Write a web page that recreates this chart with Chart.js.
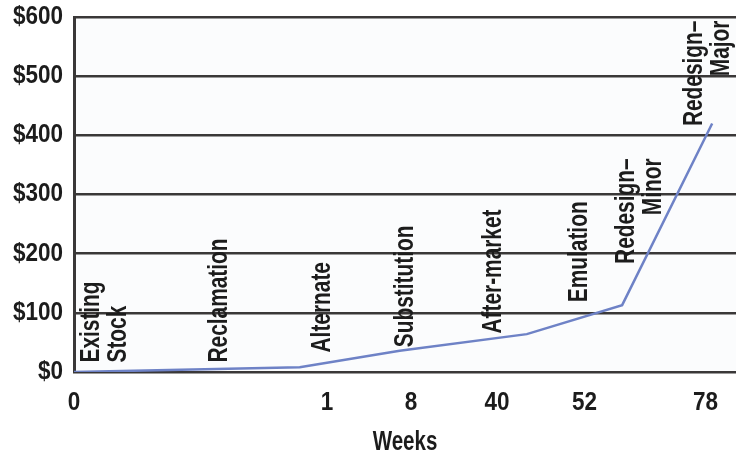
<!DOCTYPE html>
<html>
<head>
<meta charset="utf-8">
<script src="https://cdn.jsdelivr.net/npm/chart.js@4/dist/chart.umd.min.js"></script>
<style>
  body { margin: 0; background: #fff; }
  canvas { display: block; }
</style>
</head>
<body>
<canvas id="chart" width="736" height="455"></canvas>
<script>
// timeline runs 0..100 across the plot; week labels sit at uneven spots on it
const weekLabels = ['0', '1', '8', '40', '52', '78'];
const weekTickAt = [0, 38.2, 50.9, 63.9, 77.1, 95.4];

// cost curve
const timeline = [0, 34.1, 49.2, 68.4, 82.8, 96.4];
const cost = [0, 8, 36, 64, 113, 420];

// stage names written along the curve
const stageNames = [
    ['Existing', 'Stock'],
    ['Reclamation'],
    ['Alternate'],
    ['Substitution'],
    ['After-market'],
    ['Emulation'],
    ['Redesign\u2013', 'Minor'],
    ['Redesign\u2013', 'Major']
];

// where each stage name is pinned (timeline, $) and which end is pinned
const labelAnchors = [
    { x: 4.6, y: 16, align: 'left' },
    { x: 21.9, y: 16, align: 'left' },
    { x: 37.5, y: 33, align: 'left' },
    { x: 50.0, y: 42, align: 'left' },
    { x: 63.3, y: 65, align: 'left' },
    { x: 76.4, y: 118, align: 'left' },
    { x: 85.5, y: 361, align: 'right' },
    { x: 95.8, y: 594, align: 'right' }
];

const FONT = '"Liberation Sans", Arial, sans-serif';
const INK = '#1c1c1c';
const GRID = '#3a3838';
const TICK_SIZE = 25;
const TITLE_SIZE = 27;
const STAGE_SIZE = 28;

// no condensed face is installed, so squeeze each text run around its anchor;
// how much depends on which text it is (picked by font size)
const squeezeBySize = { [TICK_SIZE]: 0.9, [TITLE_SIZE]: 0.76, [STAGE_SIZE]: 0.745 };

const narrowText = {
    id: 'narrowText',
    beforeDraw(chart) {
        const ctx = chart.ctx;
        const fill = ctx.fillText;
        ctx._plainFill = fill;
        ctx.fillText = function (t, x, y, w) {
            const m = /(\d+(?:\.\d+)?)px/.exec(this.font);
            const s = (m && squeezeBySize[Math.round(+m[1])]) || 1;
            this.save();
            this.translate(x, y);
            this.scale(s, 1);
            fill.call(this, t, 0, 0, w);
            this.restore();
        };
    },
    afterDraw(chart) {
        const ctx = chart.ctx;
        if (ctx._plainFill) {
            ctx.fillText = ctx._plainFill;
            delete ctx._plainFill;
        }
    }
};

const stageLabels = {
    id: 'stageLabels',
    afterDatasetsDraw(chart) {
        const { ctx, scales: { x, y } } = chart;
        const pitch = 27;
        ctx.save();
        ctx.font = 'bold ' + STAGE_SIZE + 'px ' + FONT;
        ctx.fillStyle = INK;
        ctx.textBaseline = 'middle';
        stageNames.forEach((lines, i) => {
            const a = labelAnchors[i];
            const px = x.getPixelForValue(a.x);
            const py = y.getPixelForValue(a.y);
            ctx.save();
            ctx.translate(px, py);
            ctx.rotate(-Math.PI / 2);
            ctx.textAlign = a.align;
            lines.forEach((t, j) => {
                ctx.fillText(t, 0, (j - (lines.length - 1) / 2) * pitch);
            });
            ctx.restore();
        });
        ctx.restore();
    }
};

const plotBg = {
    id: 'plotBg',
    beforeDraw(chart) {
        const { ctx, chartArea: a } = chart;
        ctx.save();
        ctx.fillStyle = '#fbfcfd';
        ctx.fillRect(a.left, a.top, a.right - a.left, a.bottom - a.top);
        ctx.restore();
    }
};

new Chart(document.getElementById('chart'), {
    type: 'line',
    data: {
        datasets: [{
            label: 'Cost',
            data: timeline.map((t, i) => ({ x: t, y: cost[i] })),
            borderColor: '#6e82c6',
            borderWidth: 2.5,
            pointRadius: 0,
            tension: 0,
            fill: false
        }]
    },
    options: {
        responsive: false,
        animation: false,
        devicePixelRatio: 1,
        layout: { padding: { top: 17, right: 0, left: 0, bottom: 0 } },
        plugins: {
            legend: { display: false },
            tooltip: { enabled: false }
        },
        scales: {
            x: {
                type: 'linear',
                min: 0,
                max: 100,
                grid: { display: false },
                border: { display: false },
                afterBuildTicks: (scale) => {
                    scale.ticks = weekTickAt.map(v => ({ value: v }));
                },
                afterFit: (scale) => { scale.height = 83; },
                ticks: {
                    autoSkip: false,
                    maxRotation: 0,
                    padding: 8,
                    color: INK,
                    font: { family: FONT, size: TICK_SIZE, weight: 'bold' },
                    callback: (v, i) => weekLabels[i]
                },
                title: {
                    display: true,
                    text: 'Weeks',
                    color: INK,
                    padding: { top: 0, bottom: 0 },
                    font: { family: FONT, size: TITLE_SIZE, weight: 'bold', lineHeight: 0.9 }
                }
            },
            y: {
                min: 0,
                max: 600,
                afterFit: (scale) => {
                    scale.width = 74;
                    scale.paddingTop = 0;
                    scale.paddingBottom = 0;
                },
                grid: { color: GRID, lineWidth: 2.5, drawTicks: false },
                border: { display: true, color: GRID, width: 3 },
                ticks: {
                    stepSize: 100,
                    padding: 11,
                    color: INK,
                    font: { family: FONT, size: TICK_SIZE, weight: 'bold' },
                    callback: (v) => '$' + v
                }
            }
        }
    },
    plugins: [narrowText, plotBg, stageLabels]
});
</script>
</body>
</html>
